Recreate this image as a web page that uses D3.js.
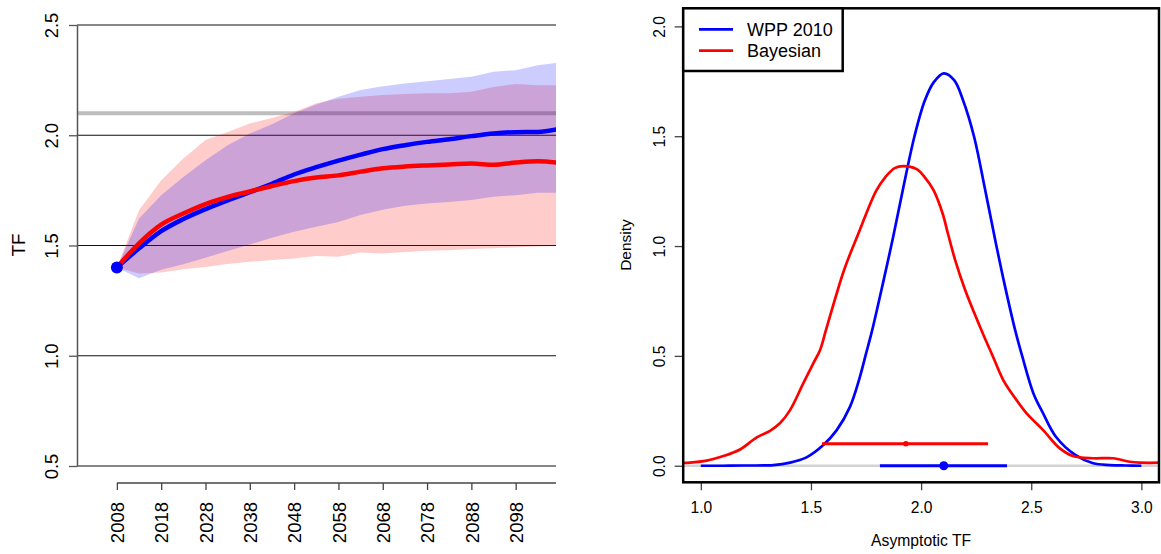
<!DOCTYPE html>
<html><head><meta charset="utf-8">
<script src="https://cdn.jsdelivr.net/npm/d3@7"></script>
<style>
html,body{margin:0;padding:0;background:#fff;}
svg{display:block;font-family:"Liberation Sans",Arial,Helvetica,sans-serif;}
</style></head>
<body>
<svg id="chart" width="1161" height="554"></svg>
<script>
// ---------- data: left panel (TF projections) ----------
const years = [2008,2013,2018,2023,2028,2033,2038,2043,2048,2053,2058,2063,2068,2073,2078,2083,2088,2093,2098,2103,2108];
const wppMedian = [1.40,1.487,1.565,1.62,1.665,1.705,1.742,1.78,1.822,1.855,1.885,1.912,1.937,1.955,1.97,1.982,1.996,2.008,2.014,2.015,2.03];
const bayesMedian = [1.40,1.51,1.595,1.645,1.688,1.72,1.745,1.77,1.792,1.808,1.818,1.835,1.85,1.858,1.863,1.867,1.872,1.866,1.876,1.882,1.874];
const wppUpper = [1.40,1.623,1.728,1.811,1.887,1.955,2.008,2.05,2.10,2.14,2.175,2.205,2.222,2.235,2.245,2.255,2.265,2.288,2.295,2.318,2.33];
const wppLower = [1.40,1.351,1.39,1.415,1.445,1.475,1.505,1.535,1.562,1.585,1.607,1.638,1.662,1.68,1.69,1.697,1.706,1.721,1.728,1.739,1.739];
const bayesUpper = [1.40,1.66,1.796,1.895,1.978,2.015,2.053,2.078,2.106,2.145,2.165,2.175,2.182,2.187,2.19,2.19,2.197,2.219,2.232,2.227,2.227];
const bayesLower = [1.40,1.373,1.377,1.392,1.403,1.416,1.426,1.434,1.441,1.452,1.449,1.468,1.464,1.471,1.476,1.479,1.484,1.487,1.492,1.496,1.498];
const yearTicks = [2008,2018,2028,2038,2048,2058,2068,2078,2088,2098];
const tfTicks = [0.5,1.0,1.5,2.0,2.5];
const referenceTF = 2.1;

// ---------- data: right panel (asymptotic TF densities) ----------
const wppX = [1.00,1.10,1.20,1.329,1.405,1.48,1.556,1.617,1.677,1.718,1.75,1.778,1.83,1.875,1.92,1.97,2.016,2.057,2.103,2.15,2.19,2.24,2.29,2.338,2.378,2.427,2.46,2.51,2.554,2.612,2.70,2.781,2.857,2.93,3.00];
const wppDensity = [0.000,0.000,0.001,0.003,0.014,0.038,0.094,0.162,0.268,0.39,0.51,0.617,0.845,1.05,1.27,1.50,1.66,1.745,1.786,1.755,1.665,1.50,1.26,1.02,0.83,0.617,0.495,0.329,0.238,0.132,0.049,0.011,0.003,0.001,0.000];
const bayesX = [0.90,0.951,1.027,1.102,1.178,1.254,1.314,1.359,1.405,1.465,1.51,1.541,1.568,1.65,1.715,1.797,1.838,1.88,1.919,1.98,2.016,2.057,2.098,2.122,2.155,2.20,2.274,2.327,2.373,2.433,2.479,2.554,2.63,2.69,2.781,2.872,2.947,2.993,3.10];
const bayesDensity = [0.013,0.014,0.023,0.044,0.074,0.129,0.159,0.193,0.253,0.375,0.465,0.526,0.617,0.89,1.056,1.253,1.314,1.355,1.364,1.35,1.314,1.253,1.147,1.056,0.935,0.80,0.617,0.495,0.39,0.299,0.238,0.162,0.079,0.044,0.034,0.034,0.018,0.014,0.014];
const wppInterval = {lo:1.813, mid:2.103, hi:2.390, level:0};
const bayesInterval = {lo:1.550, mid:1.931, hi:2.304, level:0.1};
const densityXTicks = [1.0,1.5,2.0,2.5,3.0];
const densityYTicks = [0.0,0.5,1.0,1.5,2.0];
const legendItems = [{label:"WPP 2010", color:"#0000ff"},{label:"Bayesian", color:"#ff0000"}];

const svg = d3.select("#chart");
const fmt = d3.format(".1f");

// ================= LEFT PANEL =================
const xL = d3.scaleLinear().domain([1999, 2107.1]).range([77, 556]);
const yL = d3.scaleLinear().domain([0.5, 2.5]).range([466, 25]);
const left = svg.append("g");
left.append("clipPath").attr("id","clipL").append("rect")
  .attr("x",77).attr("y",0).attr("width",556-77).attr("height",554);

left.selectAll("line.grid").data(tfTicks).join("line")
  .attr("x1",77).attr("x2",556)
  .attr("y1",d=>yL(d)).attr("y2",d=>yL(d))
  .attr("stroke","#111").attr("stroke-width",1.2);
left.append("line").attr("x1",77).attr("x2",556)
  .attr("y1",yL(referenceTF)).attr("y2",yL(referenceTF))
  .attr("stroke","#bebebe").attr("stroke-width",4);

const idx = years.map((d,i)=>i);
const areaL = (lo,hi)=>d3.area().x(i=>xL(years[i])).y0(i=>yL(lo[i])).y1(i=>yL(hi[i]));
const gClip = left.append("g").attr("clip-path","url(#clipL)");
gClip.append("path").datum(idx).attr("d",areaL(bayesLower,bayesUpper))
  .attr("fill","#ff0000").attr("fill-opacity",0.2);
gClip.append("path").datum(idx).attr("d",areaL(wppLower,wppUpper))
  .attr("fill","#0000ff").attr("fill-opacity",0.2);
const lineL = arr=>d3.line().x(i=>xL(years[i])).y(i=>yL(arr[i])).curve(d3.curveMonotoneX);
gClip.append("path").datum(idx).attr("d",lineL(wppMedian))
  .attr("fill","none").attr("stroke","#0000ff").attr("stroke-width",4.5);
gClip.append("path").datum(idx).attr("d",lineL(bayesMedian))
  .attr("fill","none").attr("stroke","#ff0000").attr("stroke-width",4.5);
left.append("circle").attr("cx",xL(years[0])).attr("cy",yL(wppMedian[0])).attr("r",6).attr("fill","#0000ff");

const yAxL = left.append("g").attr("transform","translate(77,0)")
  .call(d3.axisLeft(yL).tickValues(tfTicks).tickSize(8).tickSizeOuter(0).tickFormat(fmt));
yAxL.select(".domain").attr("stroke","#555").attr("stroke-width",1.5);
yAxL.selectAll(".tick line").attr("stroke","#555").attr("stroke-width",1.3);
yAxL.selectAll(".tick text").attr("x",null).attr("dy",null)
  .attr("transform","translate(-19.5,0) rotate(-90)")
  .attr("text-anchor","middle").attr("fill","#000")
  .style("font-size","18.5px").style("font-family","Liberation Sans, Arial, sans-serif");

const xAxL = left.append("g").attr("transform","translate(0,483)")
  .call(d3.axisBottom(xL).tickValues(yearTicks).tickSize(7).tickSizeOuter(0).tickFormat(d3.format("d")));
xAxL.select(".domain").remove();
xAxL.append("line").attr("x1",xL(yearTicks[0])).attr("x2",556).attr("y1",0).attr("y2",0)
  .attr("stroke","#444").attr("stroke-width",1.3);
xAxL.selectAll(".tick line").attr("stroke","#444").attr("stroke-width",1.3);
xAxL.selectAll(".tick text").attr("y",null).attr("dy",null)
  .attr("transform","translate(6.7,19) rotate(-90)")
  .attr("text-anchor","end").attr("fill","#000")
  .style("font-size","18.5px").style("font-family","Liberation Sans, Arial, sans-serif");

left.append("text").text("TF").attr("transform","translate(25.3,245) rotate(-90)")
  .attr("text-anchor","middle").style("font-size","19px");

// ================= RIGHT PANEL =================
const bx0 = 683.2, bx1 = 1159, by0 = 8.3, by1 = 482.3;
const xR = d3.scaleLinear().domain([0.92, 3.08]).range([bx0, bx1]);
const yR = d3.scaleLinear().domain([-0.08, 2.08]).range([483.3, 8.8]);
const right = svg.append("g");
right.append("clipPath").attr("id","clipR").append("rect")
  .attr("x",bx0).attr("y",by0).attr("width",bx1-bx0).attr("height",by1-by0);
const gR = right.append("g").attr("clip-path","url(#clipR)");

gR.append("line").attr("x1",bx0).attr("x2",bx1).attr("y1",yR(0)).attr("y2",yR(0))
  .attr("stroke","#d3d3d3").attr("stroke-width",2.5);

const dens = (xs,ys)=>d3.line().x((d,i)=>xR(xs[i])).y((d,i)=>yR(ys[i])).curve(d3.curveCatmullRom.alpha(0.5));
gR.append("path").datum(wppX).attr("d",dens(wppX,wppDensity))
  .attr("fill","none").attr("stroke","#0000ff").attr("stroke-width",2.7);
gR.append("path").datum(bayesX).attr("d",dens(bayesX,bayesDensity))
  .attr("fill","none").attr("stroke","#ff0000").attr("stroke-width",2.7);

[[bayesInterval,"#ff0000",2.8],[wppInterval,"#0000ff",4.5]].forEach(([iv,col,r])=>{
  gR.append("line").attr("x1",xR(iv.lo)).attr("x2",xR(iv.hi))
    .attr("y1",yR(iv.level)).attr("y2",yR(iv.level))
    .attr("stroke",col).attr("stroke-width",2.8);
  gR.append("circle").attr("cx",xR(iv.mid)).attr("cy",yR(iv.level)).attr("r",r).attr("fill",col);
});

const yAxR = right.append("g").attr("transform",`translate(${bx0},0)`)
  .call(d3.axisLeft(yR).tickValues(densityYTicks).tickSize(8.5).tickSizeOuter(0).tickFormat(fmt));
yAxR.select(".domain").remove();
yAxR.selectAll(".tick line").attr("stroke","#444").attr("stroke-width",1.3);
yAxR.selectAll(".tick text").attr("x",null).attr("dy",null)
  .attr("transform","translate(-18.7,0) rotate(-90)")
  .attr("text-anchor","middle").attr("fill","#000")
  .style("font-size","15.6px").style("font-family","Liberation Sans, Arial, sans-serif");

const xAxR = right.append("g").attr("transform",`translate(0,${by1})`)
  .call(d3.axisBottom(xR).tickValues(densityXTicks).tickSize(8).tickSizeOuter(0).tickFormat(fmt));
xAxR.select(".domain").remove();
xAxR.selectAll(".tick line").attr("stroke","#444").attr("stroke-width",1.3);
xAxR.selectAll(".tick text").attr("y",30.7).attr("dy",null)
  .attr("text-anchor","middle").attr("fill","#000")
  .style("font-size","15.6px").style("font-family","Liberation Sans, Arial, sans-serif");

right.append("rect").attr("x",bx0).attr("y",by0).attr("width",bx1-bx0).attr("height",by1-by0)
  .attr("fill","none").attr("stroke","#000").attr("stroke-width",2.5);

right.append("text").text("Density").attr("transform","translate(630.7,245) rotate(-90)")
  .attr("text-anchor","middle").style("font-size","15.5px");
right.append("text").text("Asymptotic TF").attr("x",xR(2.0)).attr("y",546)
  .attr("text-anchor","middle").style("font-size","15.7px");

const lg = right.append("g");
lg.append("rect").attr("x",bx0).attr("y",by0).attr("width",842.7-bx0).attr("height",71-by0)
  .attr("fill","#fff").attr("stroke","#000").attr("stroke-width",2.5);
legendItems.forEach((it,i)=>{
  const yy = 29.3 + i*21.4;
  lg.append("line").attr("x1",699).attr("x2",733).attr("y1",yy).attr("y2",yy)
    .attr("stroke",it.color).attr("stroke-width",2.7);
  lg.append("text").text(it.label).attr("x",747).attr("y",yy).attr("dy","0.35em")
    .style("font-size","18px");
});
</script>
</body></html>
